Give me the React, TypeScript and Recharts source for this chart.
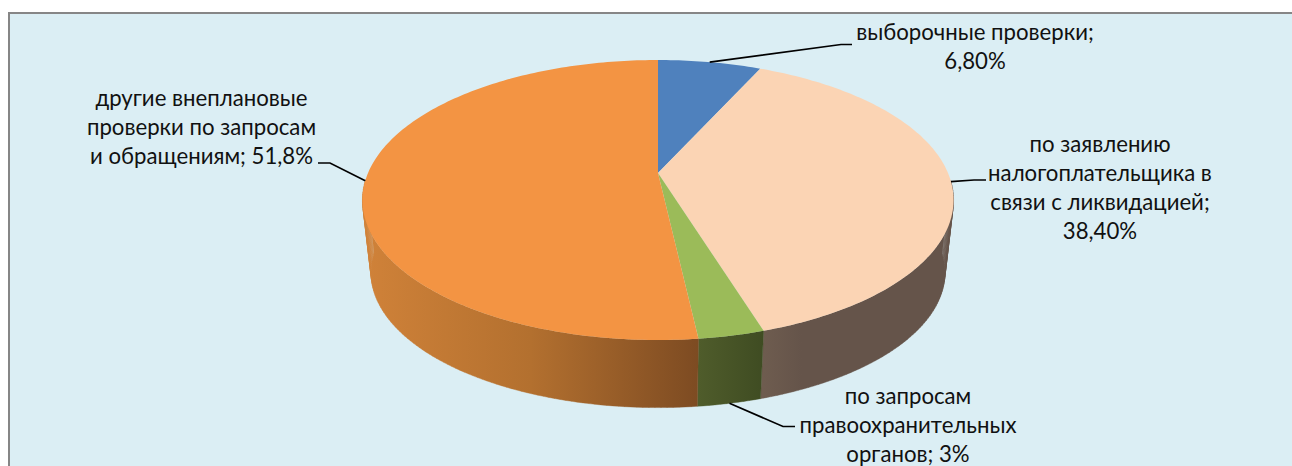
import { PieChart, Pie } from "recharts";

const categories = [
  "выборочные проверки",
  "по заявлению налогоплательщика в связи с ликвидацией",
  "по запросам правоохранительных органов",
  "другие внеплановые проверки по запросам и обращениям",
];
const shares = [6.8, 38.4, 3, 51.8];
const labelLines = [
  ["выборочные проверки;", "6,80%"],
  ["по заявлению", "налогоплательщика в", "связи с ликвидацией;", "38,40%"],
  ["по запросам", "правоохранительных", "органов; 3%"],
  ["другие внеплановые", "проверки по запросам", "и обращениям; 51,8%"],
];
const topColors = ["#4f81bd", "#fbd4b4", "#9bbb59", "#f39443"];
const wallStops = [
  ["#2f4d71", "#2f4d71"],
  ["#6e5c4f", "#65544a", "#65544a", "#65544a", "#65544a", "#65544a"],
  ["#4f5c2b", "#3f4c22"],
  ["#d08239", "#b3702f", "#7d4b22"],
];

// text block centre x, first baseline y, and the elbow of the leader line
const labelAnchors = [
  { x: 975, y: 40, elbow: [[841, 44.5], [852, 44.5]] },
  { x: 1100, y: 151.5, elbow: [[974, 180], [986, 180]] },
  { x: 908, y: 404, elbow: [[783, 426.5], [795, 426.5]] },
  { x: 201.5, y: 106, elbow: [[330, 163], [318, 163]] },
];

const CX = 658;
const TOP_Y = 173;
const BOTTOM_Y = 246.5;
const TILT = 0.193;
const FONT_SIZE = 22.2;
const LINE_HEIGHT = 29;

// flat disc seen in perspective: Excel's 3D pie is not a plain ellipse
const topDisc = (deg: number) => {
  const u = Math.cos((deg * Math.PI) / 180);
  const v = Math.sin((deg * Math.PI) / 180);
  const w = 1 + TILT * v;
  return [CX + (290 * u) / w, TOP_Y - (134.8 * v) / w];
};
const bottomDisc = (deg: number) => {
  const u = Math.cos((deg * Math.PI) / 180);
  const v = Math.sin((deg * Math.PI) / 180);
  const w = 1 + TILT * v;
  return [CX + (281.6 * u) / w, BOTTOM_Y - (130 * v) / w];
};

const arcAngles = (from: number, to: number) => {
  const steps = Math.max(2, Math.ceil(Math.abs(to - from)));
  const out: number[] = [];
  for (let i = 0; i <= steps; i++) out.push(from + ((to - from) * i) / steps);
  return out;
};

const toPath = (pts: number[][]) =>
  "M" + pts.map((p) => `${p[0].toFixed(2)},${p[1].toFixed(2)}`).join("L") + "Z";

const TopSlice = (props: any) => {
  const pts = [[CX, TOP_Y], ...arcAngles(props.startAngle, props.endAngle).map(topDisc)];
  return <path d={toPath(pts)} fill={topColors[props.index]} />;
};

const WallSlice = (props: any) => {
  const angles = arcAngles(props.startAngle, props.endAngle);
  // one quad per step, front half only so nothing peeks out behind the top disc
  const front = angles.slice(1).map((a, i) => [angles[i], a]).filter(([a]) => Math.sin((a * Math.PI) / 180) < -0.05);
  if (front.length === 0) return <g />;
  const quads = front
    .map(([a, b]) => toPath([topDisc(a), topDisc(b), bottomDisc(b), bottomDisc(a)]))
    .join("");
  const xs = front.flat().map((a) => topDisc(a)[0]);
  const stops = wallStops[props.index];
  const id = `wall-${props.index}`;
  return (
    <g>
      <defs>
        <linearGradient id={id} gradientUnits="userSpaceOnUse" x1={Math.min(...xs)} x2={Math.max(...xs)} y1={0} y2={0}>
          {stops.map((c, i) => (
            <stop key={c + i} offset={i / (stops.length - 1)} stopColor={c} />
          ))}
        </linearGradient>
      </defs>
      <path d={quads} fill={`url(#${id})`} stroke={`url(#${id})`} strokeWidth={0.4} />
    </g>
  );
};

const SliceLabel = (props: any) => {
  const { index, midAngle } = props;
  const anchor = labelAnchors[index];
  const disc = index === 2 ? bottomDisc : topDisc;
  const line = [disc(midAngle), ...anchor.elbow];
  return (
    <g>
      <polyline
        points={line.map((p) => p.join(",")).join(" ")}
        fill="none"
        stroke="#000"
        strokeWidth={1.7}
      />
      <text
        textAnchor="middle"
        fontFamily="Lato, 'Open Sans', sans-serif"
        fontSize={FONT_SIZE}
        fill="#111"
      >
        {labelLines[index].map((t, i) => (
          <tspan key={t} x={anchor.x} y={anchor.y + i * LINE_HEIGHT}>
            {t}
          </tspan>
        ))}
      </text>
    </g>
  );
};

const data = categories.map((name, i) => ({ name, value: shares[i] }));

export default function App() {
  return (
    <div style={{ position: "absolute", left: 0, top: 0, width: 1292, height: 466, overflow: "hidden", background: "#fff" }}>
      <div
        style={{
          position: "absolute",
          left: 8,
          top: 12,
          width: 1300,
          height: 470,
          background: "#dbeef4",
          border: "2px solid #868686",
        }}
      />
      <div style={{ position: "absolute", left: 0, top: 0 }}>
        <PieChart width={1292} height={466} margin={{ top: 0, right: 0, bottom: 0, left: 0 }}>
          <Pie
            data={data}
            dataKey="value"
            cx={CX}
            cy={TOP_Y}
            outerRadius={140}
            startAngle={90}
            endAngle={-270}
            paddingAngle={0}
            stroke="none"
            shape={WallSlice}
            label={false}
            labelLine={false}
            isAnimationActive={false}
          />
          <Pie
            data={data}
            dataKey="value"
            cx={CX}
            cy={TOP_Y}
            outerRadius={140}
            startAngle={90}
            endAngle={-270}
            paddingAngle={0}
            stroke="none"
            shape={TopSlice}
            label={SliceLabel}
            labelLine={false}
            isAnimationActive={false}
          />
        </PieChart>
      </div>
    </div>
  );
}
